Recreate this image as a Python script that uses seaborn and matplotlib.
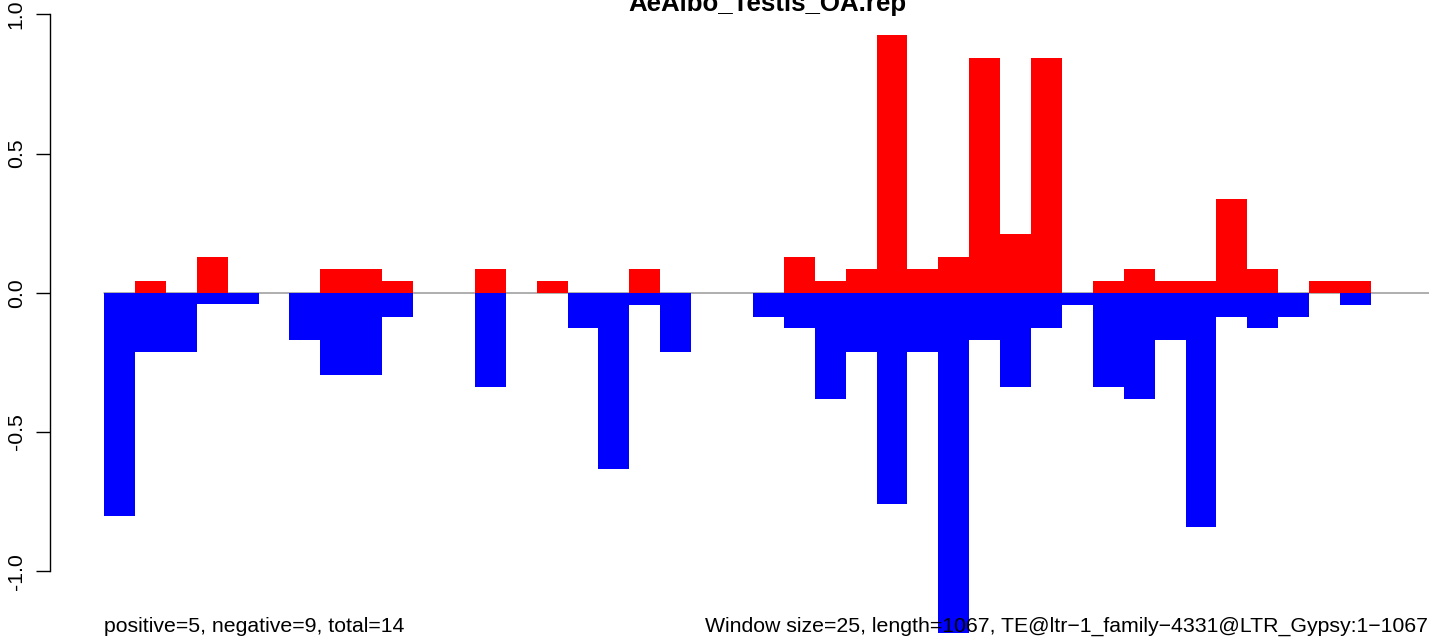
import matplotlib
matplotlib.use("Agg")
import numpy as np
import pandas as pd
import matplotlib.pyplot as plt
import seaborn as sns

window = 25
length = 1067
title = "AeAlbo_Testis_OA.rep"
left_note = "positive=5, negative=9, total=14"
right_note = "Window size=25, length=1067, TE@ltr\u22121_family\u22124331@LTR_Gypsy:1\u22121067"

# one value per 25-nt window, sense (up) and antisense (down)
plus = [0, 0.042, 0, 0.128, 0, 0, 0, 0.085, 0.085, 0.042, 0, 0, 0.085, 0, 0.042,
        0, 0, 0.085, 0, 0, 0, 0, 0.128, 0.042, 0.085, 0.926, 0.085, 0.128, 0.843,
        0.211, 0.843, 0, 0.042, 0.085, 0.042, 0.042, 0.337, 0.085, 0, 0.042, 0.042,
        0, 0]
minus = [-0.801, -0.212, -0.212, -0.042, -0.042, 0, -0.17, -0.296, -0.296, -0.087,
         0, 0, -0.339, 0, 0, -0.127, -0.632, -0.044, -0.212, 0, 0, -0.087, -0.127,
         -0.381, -0.212, -0.758, -0.212, -1.221, -0.17, -0.339, -0.127, -0.044,
         -0.339, -0.381, -0.17, -0.84, -0.087, -0.127, -0.087, 0, -0.044, 0, 0]
yticks = [-1.0, -0.5, 0.0, 0.5, 1.0]

pos = np.arange(len(plus)) * window + window / 2
df = pd.DataFrame({"pos": pos, "plus": plus, "minus": minus})

sns.set_style("white")
plt.rcParams["font.family"] = ["Liberation Sans", "DejaVu Sans"]
plt.rcParams["text.color"] = "black"
plt.rcParams["ytick.color"] = "black"

W, H = 1429, 639
fig = plt.figure(figsize=(W / 100, H / 100), dpi=100)
ax = fig.add_axes([50 / W, (H - 571.3) / H, (W - 50) / W, (571.3 - 14.3) / H])

ax.plot([0, 1200], [0, 0], color="#999999", lw=1.1, zorder=0)
sns.barplot(data=df, x="pos", y="plus", native_scale=True, width=1, color="red",
            saturation=1, errorbar=None, linewidth=0, ax=ax, zorder=2)
sns.barplot(data=df, x="pos", y="minus", native_scale=True, width=1, color="blue",
            saturation=1, errorbar=None, linewidth=0, ax=ax, zorder=2)
for p in ax.patches:
    p.set_clip_on(False)

ax.set_xlim((50 - 104) / 1.236, (W - 104) / 1.236)
ax.set_ylim(-1, 1)
ax.set_xlabel("")
ax.set_ylabel("")
ax.set_xticks([])
ax.set_yticks(yticks)
ax.set_yticklabels([f"{t:.1f}" for t in yticks], rotation=90, va="center",
                   fontsize=15.3, color="black")
ax.tick_params(axis="y", length=10, width=1, pad=7.5, color="black", left=True)
for s in ["top", "right", "bottom"]:
    ax.spines[s].set_visible(False)
ax.spines["left"].set_bounds(-1, 1)
ax.spines["left"].set_linewidth(1)
ax.spines["left"].set_color("black")
ax.patch.set_alpha(0)

fig.text(767 / W, 1 - 11 / H, title, ha="center", va="baseline",
         fontsize=18.6, fontweight="bold", color="black")
fig.text(104 / W, 1 - 632 / H, left_note, ha="left", va="baseline",
         fontsize=15.3, color="black")
fig.text(1428 / W, 1 - 632 / H, right_note, ha="right", va="baseline",
         fontsize=15.3, color="black", zorder=5)

fig.savefig("out.png", dpi=100)
